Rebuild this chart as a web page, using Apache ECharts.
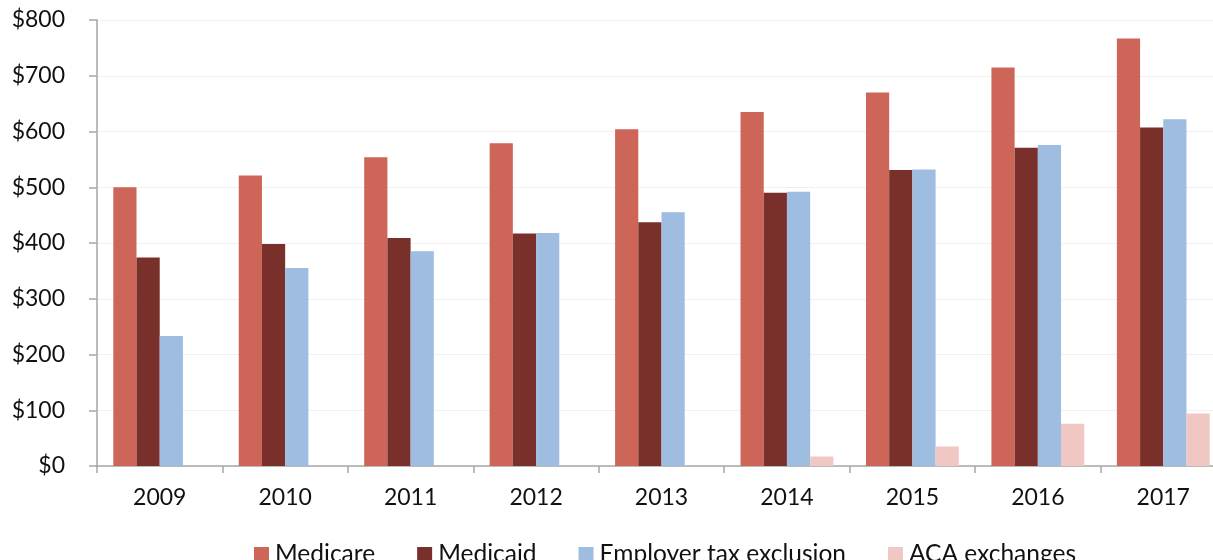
<!DOCTYPE html>
<html>
<head>
<meta charset="utf-8">
<script src="https://cdn.jsdelivr.net/npm/echarts@6/dist/echarts.min.js"></script>
<style>
  html, body { margin: 0; padding: 0; background: #fff; overflow: hidden; }
  #chart { width: 1226px; height: 560px; }
</style>
</head>
<body>
<div id="chart"></div>
<script>
// Federal health spending by program, billions of dollars
const years = ['2009', '2010', '2011', '2012', '2013', '2014', '2015', '2016', '2017'];
const medicare = [500, 521, 554, 579, 604, 635, 670, 715, 767];
const medicaid = [374, 398, 409, 417, 437, 490, 531, 571, 607];
const employerExclusion = [233, 355, 385, 418, 455, 492, 532, 576, 622];
const acaExchanges = [null, null, null, null, null, 17, 35, 76, 94];
const yTicks = [0, 100, 200, 300, 400, 500, 600, 700, 800];

const FONT = 'Lato, "Noto Sans", sans-serif';
const chart = echarts.init(document.getElementById('chart'), null, { renderer: 'canvas' });

function bar(name, data, color) {
  return {
    name, type: 'bar', data,
    barGap: '0%', barCategoryGap: '26%',
    itemStyle: { color },
    emphasis: { disabled: true }
  };
}

chart.setOption({
  animation: false,
  grid: { left: 97, right: 0, top: 20, height: 446, containLabel: false },
  legend: {
    top: 537, left: 249,
    itemWidth: 15, itemHeight: 15, itemGap: 42,
    icon: 'rect',
    textStyle: { fontFamily: FONT, fontSize: 24.5, color: '#111', padding: [0, 0, 0, 1] },
    data: ['Medicare', 'Medicaid', 'Employer tax exclusion', 'ACA exchanges']
  },
  xAxis: {
    type: 'category', data: years,
    axisLine: { lineStyle: { color: '#a6a6a6', width: 1.5 } },
    axisTick: { show: true, length: 7, lineStyle: { color: '#a6a6a6', width: 1.5 } },
    axisLabel: { fontFamily: FONT, fontSize: 23, color: '#111', margin: 20 }
  },
  yAxis: {
    type: 'value', min: yTicks[0], max: yTicks[yTicks.length - 1], interval: 100,
    axisLine: { show: true, lineStyle: { color: '#a6a6a6', width: 1.5 } },
    axisTick: { show: true, length: 8, lineStyle: { color: '#a6a6a6', width: 1.5 } },
    splitLine: { lineStyle: { color: '#f0f0f0', width: 1 } },
    axisLabel: { fontFamily: FONT, fontSize: 23, color: '#111', margin: 32, formatter: v => '$' + v }
  },
  series: [
    bar('Medicare', medicare, '#CD6659'),
    bar('Medicaid', medicaid, '#7A302A'),
    bar('Employer tax exclusion', employerExclusion, '#9EBDE0'),
    bar('ACA exchanges', acaExchanges, '#F0C7C3')
  ]
});
</script>
</body>
</html>
